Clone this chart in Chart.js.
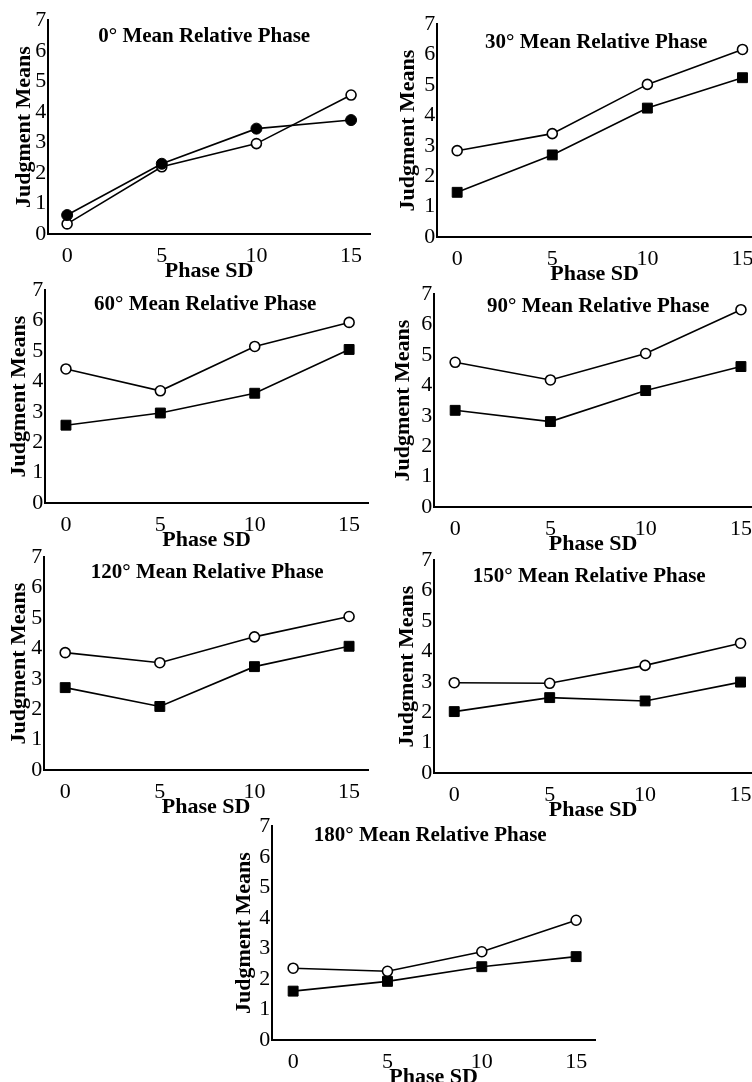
<!DOCTYPE html>
<html>
<head>
<meta charset="utf-8">
<script src="https://cdn.jsdelivr.net/npm/chart.js@4.4.0/dist/chart.umd.min.js"></script>
<style>
  body { margin: 0; background: #fff; width: 752px; height: 1082px; overflow: hidden; position: relative; }
  canvas { position: absolute; }
</style>
</head>
<body>
<script>
// x categories and tick labels
const phaseSD = [0, 5, 10, 15];
const yTicks = [0, 1, 2, 3, 4, 5, 6, 7];

const titles = [
  "0° Mean Relative Phase",
  "30° Mean Relative Phase",
  "60° Mean Relative Phase",
  "90° Mean Relative Phase",
  "120° Mean Relative Phase",
  "150° Mean Relative Phase",
  "180° Mean Relative Phase",
];

// judgment means, open circles
const open0 = [0.33, 2.2, 2.96, 4.55];
const open30 = [2.84, 3.4, 5.02, 6.17];
const open60 = [4.41, 3.69, 5.15, 5.94];
const open90 = [4.76, 4.18, 5.05, 6.49];
const open120 = [3.86, 3.53, 4.38, 5.05];
const open150 = [2.97, 2.95, 3.54, 4.27];
const open180 = [2.35, 2.25, 2.89, 3.92];

// judgment means, filled markers (circles in the first panel, squares elsewhere)
const filled0 = [0.62, 2.3, 3.45, 3.73];
const filled30 = [1.47, 2.7, 4.24, 5.24];
const filled60 = [2.56, 2.96, 3.61, 5.05];
const filled90 = [3.18, 2.81, 3.83, 4.62];
const filled120 = [2.71, 2.09, 3.4, 4.07];
const filled150 = [2.02, 2.48, 2.37, 2.99];
const filled180 = [1.6, 1.92, 2.4, 2.73];

const openSets = [open0, open30, open60, open90, open120, open150, open180];
const filledSets = [filled0, filled30, filled60, filled90, filled120, filled150, filled180];

// page geometry of each plot area (L/R/T/B), x range, y-title offset, panel title spot
const boxes = [
  { L: 48, R: 370, T: 19, B: 234, xMin: -1, xMax: 16, yOff: 24, tx: 204, ty: 42 },
  { L: 437, R: 752, T: 23, B: 237, xMin: -1.05, xMax: 15.5, yOff: 29, tx: 596, ty: 48 },
  { L: 45, R: 368, T: 289, B: 503, xMin: -1.1, xMax: 16, yOff: 26, tx: 205, ty: 310 },
  { L: 434, R: 752, T: 293, B: 507, xMin: -1.1, xMax: 15.58, yOff: 31, tx: 598, ty: 312 },
  { L: 44, R: 368, T: 556, B: 770, xMin: -1.11, xMax: 16, yOff: 25, tx: 207, ty: 578 },
  { L: 434, R: 752, T: 559, B: 773, xMin: -1.05, xMax: 15.6, yOff: 27, tx: 589, ty: 582 },
  { L: 272, R: 595, T: 825, B: 1040, xMin: -1.11, xMax: 16, yOff: 28, tx: 430, ty: 841 },
];

const SERIF = "'Liberation Serif', 'Times New Roman', serif";
const PAD_T = 14;
const PAD_R = 14;
const X_H = 51;

const panelTitle = {
  id: "panelTitle",
  afterDraw(chart, args, opts) {
    const ctx = chart.ctx;
    ctx.save();
    ctx.font = "bold 21px " + SERIF;
    ctx.fillStyle = "#000";
    ctx.textAlign = "center";
    ctx.textBaseline = "alphabetic";
    ctx.fillText(opts.text, opts.x, opts.y);
    ctx.restore();
  },
};

boxes.forEach((b, i) => {
  const yW = b.yOff + 13.2;
  const left = b.L - yW;
  const top = b.T - PAD_T;
  const w = Math.round(b.R + PAD_R - left);
  const h = Math.round(b.B + X_H - top);

  const canvas = document.createElement("canvas");
  canvas.width = w;
  canvas.height = h;
  canvas.style.left = left + "px";
  canvas.style.top = top + "px";
  document.body.appendChild(canvas);

  const isSquare = i > 0;

  new Chart(canvas.getContext("2d"), {
    type: "line",
    data: {
      datasets: [
        {
          data: phaseSD.map((x, k) => ({ x: x, y: filledSets[i][k] })),
          borderColor: "#000",
          backgroundColor: "#000",
          borderWidth: 1.6,
          pointStyle: isSquare ? "rect" : "circle",
          pointRadius: isSquare ? 7 : 5.5,
          pointBorderWidth: 1,
          pointBackgroundColor: "#000",
          pointBorderColor: "#000",
          tension: 0,
        },
        {
          data: phaseSD.map((x, k) => ({ x: x, y: openSets[i][k] })),
          borderColor: "#000",
          backgroundColor: "#fff",
          borderWidth: 1.6,
          pointStyle: "circle",
          pointRadius: 5,
          pointBorderWidth: 1.6,
          pointBackgroundColor: "#fff",
          pointBorderColor: "#000",
          tension: 0,
        },
      ],
    },
    options: {
      responsive: false,
      animation: false,
      devicePixelRatio: 1,
      clip: false,
      layout: { padding: { top: PAD_T, right: PAD_R, left: 0, bottom: 0 } },
      plugins: {
        legend: { display: false },
        tooltip: { enabled: false },
        panelTitle: { text: titles[i], x: b.tx - left, y: b.ty - top },
      },
      scales: {
        x: {
          type: "linear",
          min: b.xMin,
          max: b.xMax,
          afterBuildTicks: (scale) => {
            scale.ticks = phaseSD.map((v) => ({ value: v }));
          },
          afterFit: (scale) => {
            scale.height = X_H;
          },
          grid: { display: false, drawTicks: false },
          border: { color: "#000", width: 2 },
          ticks: {
            color: "#000",
            padding: 9,
            maxRotation: 0,
            font: { family: SERIF, size: 22 },
          },
          title: {
            display: true,
            text: "Phase SD",
            color: "#000",
            padding: 0,
            font: { family: SERIF, size: 22, weight: "bold" },
          },
        },
        y: {
          min: 0,
          max: 7,
          afterBuildTicks: (scale) => {
            scale.ticks = yTicks.map((v) => ({ value: v }));
          },
          afterFit: (scale) => {
            scale.width = yW;
          },
          grid: { display: false, drawTicks: false },
          border: { color: "#000", width: 2 },
          ticks: {
            color: "#000",
            padding: 2,
            font: { family: SERIF, size: 22 },
          },
          title: {
            display: true,
            text: "Judgment Means",
            color: "#000",
            padding: 0,
            font: { family: SERIF, size: 22, weight: "bold" },
          },
        },
      },
    },
    plugins: [panelTitle],
  });
});
</script>
</body>
</html>
